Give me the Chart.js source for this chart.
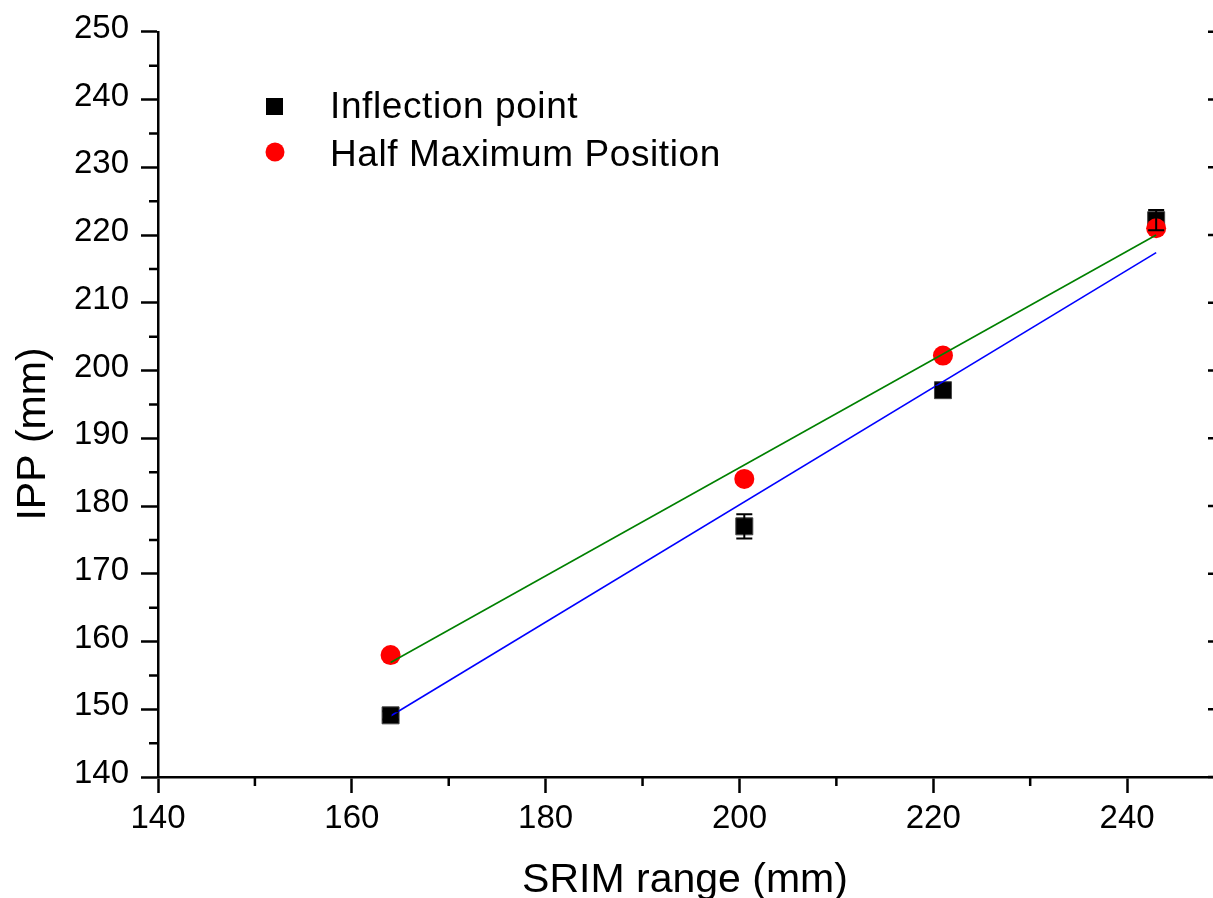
<!DOCTYPE html>
<html lang="en">
<head>
    <meta charset="UTF-8">
    <title>IPP vs SRIM range</title>
    <script src="https://cdn.jsdelivr.net/npm/chart.js"></script>
    <style>
        body {
            margin: 0;
            background: #fff;
            overflow: hidden;
        }
        #wrap {
            width: 1240px;
            height: 898px;
        }
    </style>
</head>
<body>
<div id="wrap"><canvas id="chart"></canvas></div>
<script>
    // values
    const srimRange = [164, 200.5, 221, 243];
    const inflectionIPP = [149.1, 177.0, 197.1, 222.2];
    const inflectionErr = [0.6, 1.8, 0.5, 1.5];
    const halfMaxIPP = [158.0, 184.0, 202.2, 221.0];
    const fitX = [164, 243];
    const inflectionFit = [149.0, 217.4];
    const halfMaxFit = [156.9, 220.0];

    const xTitle = 'SRIM range (mm)';
    const yTitle = 'IPP (mm)';
    const FONT = 'Arial, "Liberation Sans", sans-serif';

    const toPoints = (xs, ys) => xs.map((x, i) => ({x: x, y: ys[i]}));

    // error bars on the inflection point series
    const errorBars = {
        id: 'errorBars',
        afterDatasetsDraw(chart) {
            const ctx = chart.ctx;
            const xs = chart.scales.x, ys = chart.scales.y;
            ctx.save();
            ctx.strokeStyle = '#000';
            ctx.lineWidth = 2;
            srimRange.forEach((x, i) => {
                const px = xs.getPixelForValue(x);
                const top = ys.getPixelForValue(inflectionIPP[i] + inflectionErr[i]);
                const bot = ys.getPixelForValue(inflectionIPP[i] - inflectionErr[i]);
                ctx.beginPath();
                ctx.moveTo(px, top); ctx.lineTo(px, bot);
                ctx.moveTo(px - 8, top); ctx.lineTo(px + 8, top);
                ctx.moveTo(px - 8, bot); ctx.lineTo(px + 8, bot);
                ctx.stroke();
            });
            ctx.restore();
        }
    };

    // minor ticks, right axis ticks, axis titles and legend
    const decorations = {
        id: 'decorations',
        afterDraw(chart) {
            const ctx = chart.ctx;
            const xs = chart.scales.x, ys = chart.scales.y;
            const a = chart.chartArea;
            ctx.save();
            ctx.strokeStyle = '#000';
            ctx.lineWidth = 2.5;
            ctx.beginPath();
            for (let v = 150; v <= 250; v += 20) {
                const px = xs.getPixelForValue(v);
                ctx.moveTo(px, a.bottom); ctx.lineTo(px, a.bottom + 9);
            }
            for (let v = 145; v < 250; v += 10) {
                const py = ys.getPixelForValue(v);
                ctx.moveTo(a.left - 9, py); ctx.lineTo(a.left, py);
            }
            for (let v = 140; v <= 250; v += 10) {
                const py = ys.getPixelForValue(v);
                ctx.moveTo(a.right - 16, py); ctx.lineTo(a.right, py);
            }
            ctx.moveTo(a.right, a.top); ctx.lineTo(a.right, a.bottom);
            ctx.stroke();

            ctx.fillStyle = '#000';
            ctx.font = '41px ' + FONT;
            ctx.textAlign = 'center';
            ctx.textBaseline = 'alphabetic';
            ctx.fillText(xTitle, 685, 892);
            ctx.save();
            ctx.translate(45, 434);
            ctx.rotate(-Math.PI / 2);
            ctx.fillText(yTitle, 0, 0);
            ctx.restore();

            // legend
            const ds = chart.data.datasets;
            ctx.fillStyle = '#000';
            ctx.fillRect(266, 98, 17, 17);
            ctx.fillStyle = '#ff0000';
            ctx.beginPath();
            ctx.arc(275, 152, 9.5, 0, Math.PI * 2);
            ctx.fill();
            ctx.fillStyle = '#000';
            ctx.font = '37px ' + FONT;
            ctx.textAlign = 'left';
            ctx.letterSpacing = '0.6px';
            ctx.fillText(ds[0].label, 330, 118);
            ctx.fillText(ds[1].label, 330, 166);
            ctx.restore();
        }
    };

    new Chart(document.getElementById('chart'), {
        type: 'scatter',
        data: {
            datasets: [
                {
                    label: 'Inflection point',
                    data: toPoints(srimRange, inflectionIPP),
                    pointStyle: 'rect',
                    pointRadius: 12,
                    pointHoverRadius: 12,
                    backgroundColor: '#000',
                    borderColor: '#444',
                    borderWidth: 1,
                    order: 3
                },
                {
                    label: 'Half Maximum Position',
                    data: toPoints(srimRange, halfMaxIPP),
                    pointStyle: 'circle',
                    pointRadius: 10,
                    pointHoverRadius: 10,
                    backgroundColor: '#ff0000',
                    borderColor: '#ff0000',
                    borderWidth: 0,
                    order: 2
                },
                {
                    label: 'fit1',
                    data: toPoints(fitX, inflectionFit),
                    showLine: true,
                    pointRadius: 0,
                    borderColor: '#0000ff',
                    borderWidth: 1.6,
                    order: 1
                },
                {
                    label: 'fit2',
                    data: toPoints(fitX, halfMaxFit),
                    showLine: true,
                    pointRadius: 0,
                    borderColor: '#008000',
                    borderWidth: 1.6,
                    order: 0
                }
            ]
        },
        options: {
            responsive: true,
            maintainAspectRatio: false,
            animation: false,
            layout: {padding: {top: 29, right: 16, left: 0, bottom: 0}},
            plugins: {
                legend: {display: false},
                tooltip: {enabled: false}
            },
            scales: {
                x: {
                    type: 'linear',
                    min: 140,
                    max: 250,
                    afterFit: s => { s.height = 121; },
                    ticks: {
                        stepSize: 20,
                        includeBounds: false,
                        color: '#000',
                        font: {family: FONT, size: 33},
                        padding: 6,
                        maxRotation: 0
                    },
                    grid: {
                        drawOnChartArea: false,
                        drawTicks: true,
                        tickLength: 16,
                        tickWidth: 2.5,
                        tickColor: '#000'
                    },
                    border: {color: '#000', width: 2.5}
                },
                y: {
                    min: 140,
                    max: 250,
                    afterFit: s => { s.width = 158; },
                    ticks: {
                        stepSize: 10,
                        color: '#000',
                        font: {family: FONT, size: 33},
                        padding: 12,
                        labelOffset: -3
                    },
                    grid: {
                        drawOnChartArea: false,
                        drawTicks: true,
                        tickLength: 17,
                        tickWidth: 2.5,
                        tickColor: '#000'
                    },
                    border: {color: '#000', width: 2.5}
                }
            }
        },
        plugins: [errorBars, decorations]
    });
</script>
</body>
</html>
